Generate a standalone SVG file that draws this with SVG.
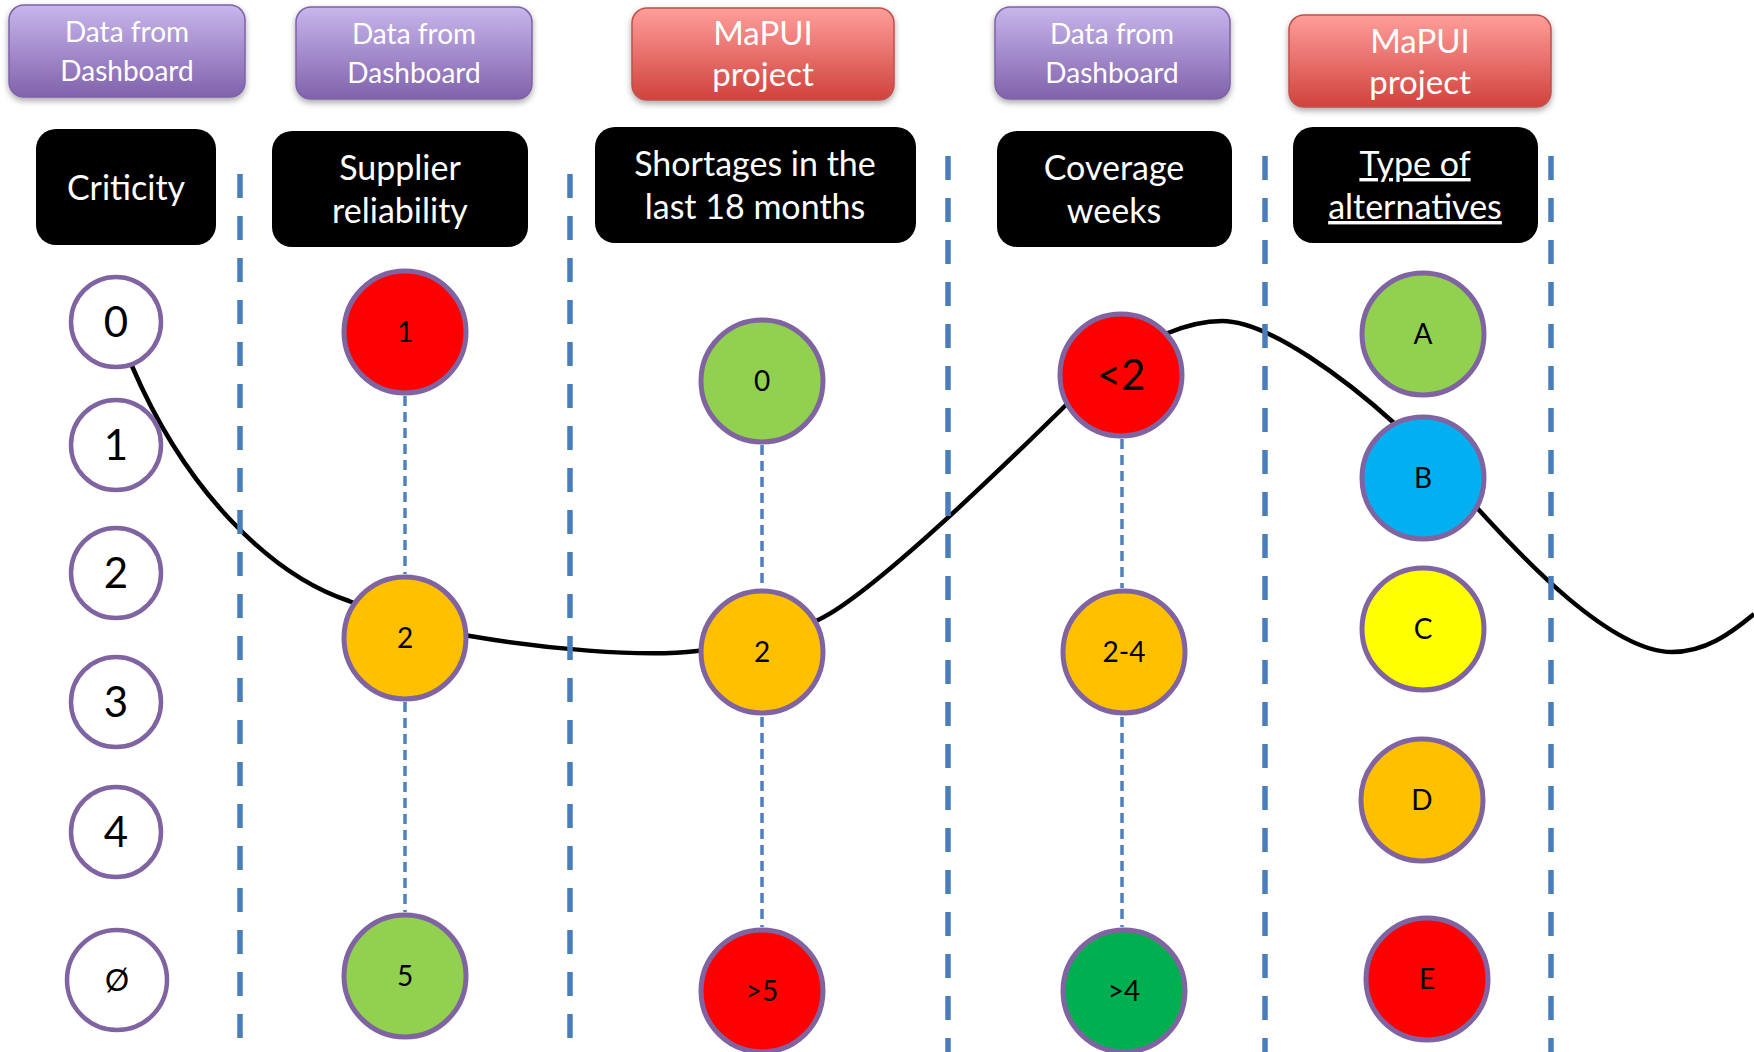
<svg xmlns="http://www.w3.org/2000/svg" width="1754" height="1052" viewBox="0 0 1754 1052">
<defs>
<linearGradient id="gPurple" x1="0" y1="0" x2="0" y2="1">
<stop offset="0" stop-color="#C8B6EC"/>
<stop offset="1" stop-color="#8062AC"/>
</linearGradient>
<linearGradient id="gRed" x1="0" y1="0" x2="0" y2="1">
<stop offset="0" stop-color="#FF9E9B"/>
<stop offset="1" stop-color="#D0423C"/>
</linearGradient>
<filter id="shadow" x="-10%" y="-10%" width="120%" height="130%">
<feDropShadow dx="0" dy="3" stdDeviation="3" flood-color="#000" flood-opacity="0.35"/>
</filter>
</defs>
<style>
.src{stroke-width:1.5;filter:url(#shadow)}
.purple{fill:url(#gPurple);stroke:#7E62A8}
.red{fill:url(#gRed);stroke:#C0504D}
.srct{font-family:Lato,"Liberation Sans",sans-serif;fill:#fff;text-anchor:middle}
.hdr{fill:#000}
.hdrt{font-family:Lato,"Liberation Sans",sans-serif;font-size:34px;fill:#fff;text-anchor:middle}
.sep{stroke:#4A7EBB;stroke-width:5.5;stroke-dasharray:24 18;fill:none}
.link{stroke:#4F81BD;stroke-width:3.5;stroke-dasharray:10 6;fill:none}
.curve{stroke:#000;stroke-width:4.5;fill:none}
.c{stroke:#8064A2;stroke-width:5}
.ct{font-family:Lato,"Liberation Sans",sans-serif;font-size:28px;fill:#000;text-anchor:middle}
.ct.big{font-size:42px}
.crit{fill:#fff;stroke:#8064A2;stroke-width:4.5}
.critt{font-family:Lato,"Liberation Sans",sans-serif;font-size:42px;fill:#000;text-anchor:middle}
.critt.small{font-size:30px}
</style>
<rect width="1754" height="1052" fill="#fff"/>

<g id="connectors">
<path class="curve" d="M132,366 C185,490 270,575 349,601 C389,618 430,630 470,636 C540,648 640,658 697,651 C740,646 780,638 818,620 C870,596 1000,470 1068,403 C1100,371 1135,347 1168,333 C1185,326 1205,321 1222,321 C1270,321 1350,383 1394,423 C1424,450 1450,478 1479,510 C1520,555 1610,652 1672,652 C1705,652 1730,634 1754,614"/>
<line class="link" x1="405" y1="396" x2="405" y2="574"/>
<line class="link" x1="405" y1="702" x2="405" y2="912"/>
<line class="link" x1="762" y1="445" x2="762" y2="588"/>
<line class="link" x1="762" y1="717" x2="762" y2="927"/>
<line class="link" x1="1122" y1="439" x2="1122" y2="588"/>
<line class="link" x1="1122" y1="717" x2="1122" y2="927"/>
</g>

<g id="separators">
<line class="sep" x1="240" y1="174" x2="240" y2="1038"/>
<line class="sep" x1="570" y1="174" x2="570" y2="1038"/>
<line class="sep" x1="948" y1="156" x2="948" y2="1060"/>
<line class="sep" x1="1265" y1="156" x2="1265" y2="1060"/>
<line class="sep" x1="1551" y1="156" x2="1551" y2="1060"/>
</g>

<g id="src1"><rect class="src purple" x="9" y="5" width="236" height="92" rx="15"/>
<text class="srct" font-size="28" x="127" y="42">Data from</text><text class="srct" font-size="28" x="127" y="81">Dashboard</text></g>
<g id="src2"><rect class="src purple" x="296" y="7" width="236" height="92" rx="15"/>
<text class="srct" font-size="28" x="414" y="44">Data from</text><text class="srct" font-size="28" x="414" y="83">Dashboard</text></g>
<g id="src3"><rect class="src red" x="632" y="8" width="262" height="92" rx="15"/>
<text class="srct" font-size="33" x="763" y="45">MaPUI</text><text class="srct" font-size="33" x="763" y="86">project</text></g>
<g id="src4"><rect class="src purple" x="995" y="7" width="235" height="92" rx="15"/>
<text class="srct" font-size="28" x="1112" y="44">Data from</text><text class="srct" font-size="28" x="1112" y="83">Dashboard</text></g>
<g id="src5"><rect class="src red" x="1289" y="15" width="262" height="92" rx="15"/>
<text class="srct" font-size="33" x="1420" y="53">MaPUI</text><text class="srct" font-size="33" x="1420" y="94">project</text></g>

<g id="h-criticity"><rect class="hdr" x="36" y="129" width="180" height="116" rx="20"/>
<text class="hdrt" x="126" y="200">Criticity</text></g>
<g id="h-supplier"><rect class="hdr" x="272" y="131" width="256" height="116" rx="20"/>
<text class="hdrt" x="400" y="180">Supplier</text><text class="hdrt" x="400" y="223">reliability</text></g>
<g id="h-shortages"><rect class="hdr" x="595" y="127" width="321" height="116" rx="20"/>
<text class="hdrt" x="755" y="176">Shortages in the</text><text class="hdrt" x="755" y="219">last 18 months</text></g>
<g id="h-coverage"><rect class="hdr" x="997" y="131" width="235" height="116" rx="20"/>
<text class="hdrt" x="1114" y="180">Coverage</text><text class="hdrt" x="1114" y="223">weeks</text></g>
<g id="h-alternatives"><rect class="hdr" x="1293" y="127" width="245" height="116" rx="20"/>
<text class="hdrt" x="1415" y="176" text-decoration="underline">Type of</text><text class="hdrt" x="1415" y="219" text-decoration="underline">alternatives</text></g>

<g id="crit-0"><circle class="crit" cx="116" cy="322" r="45"/><text class="critt" x="116" y="337">0</text></g>
<g id="crit-1"><circle class="crit" cx="116" cy="445" r="45"/><text class="critt" x="116" y="460">1</text></g>
<g id="crit-2"><circle class="crit" cx="116" cy="573" r="45"/><text class="critt" x="116" y="588">2</text></g>
<g id="crit-3"><circle class="crit" cx="116" cy="702" r="45"/><text class="critt" x="116" y="717">3</text></g>
<g id="crit-4"><circle class="crit" cx="116" cy="832" r="45"/><text class="critt" x="116" y="847">4</text></g>
<g id="crit-none"><circle class="crit" cx="117" cy="980" r="50"/><text class="critt small" x="117" y="991">Ø</text></g>

<g id="sup-1"><circle class="c" fill="#FF0000" cx="405" cy="332" r="61"/><text class="ct" x="405" y="342">1</text></g>
<g id="sup-2"><circle class="c" fill="#FFC000" cx="405" cy="638" r="61"/><text class="ct" x="405" y="648">2</text></g>
<g id="sup-5"><circle class="c" fill="#92D050" cx="405" cy="976" r="61"/><text class="ct" x="405" y="986">5</text></g>

<g id="sho-0"><circle class="c" fill="#92D050" cx="762" cy="381" r="61"/><text class="ct" x="762" y="391">0</text></g>
<g id="sho-2"><circle class="c" fill="#FFC000" cx="762" cy="652" r="61"/><text class="ct" x="762" y="662">2</text></g>
<g id="sho-5"><circle class="c" fill="#FF0000" cx="762" cy="991" r="61"/><text class="ct" x="762" y="1001">&gt;5</text></g>

<g id="cov-lt2"><circle class="c" fill="#FF0000" cx="1121" cy="375" r="61"/><text class="ct big" x="1121" y="390">&lt;2</text></g>
<g id="cov-2-4"><circle class="c" fill="#FFC000" cx="1124" cy="652" r="61"/><text class="ct" x="1124" y="662">2-4</text></g>
<g id="cov-gt4"><circle class="c" fill="#00B050" cx="1124" cy="991" r="61"/><text class="ct" x="1124" y="1001">&gt;4</text></g>

<g id="alt-a"><circle class="c" fill="#92D050" cx="1423" cy="334" r="61"/><text class="ct" x="1423" y="344">A</text></g>
<g id="alt-b"><circle class="c" fill="#00B0F0" cx="1423" cy="478" r="61"/><text class="ct" x="1423" y="488">B</text></g>
<g id="alt-c"><circle class="c" fill="#FFFF00" cx="1423" cy="629" r="61"/><text class="ct" x="1423" y="639">C</text></g>
<g id="alt-d"><circle class="c" fill="#FFC000" cx="1422" cy="800" r="61"/><text class="ct" x="1422" y="810">D</text></g>
<g id="alt-e"><circle class="c" fill="#FF0000" cx="1427" cy="979" r="61"/><text class="ct" x="1427" y="989">E</text></g>
</svg>
